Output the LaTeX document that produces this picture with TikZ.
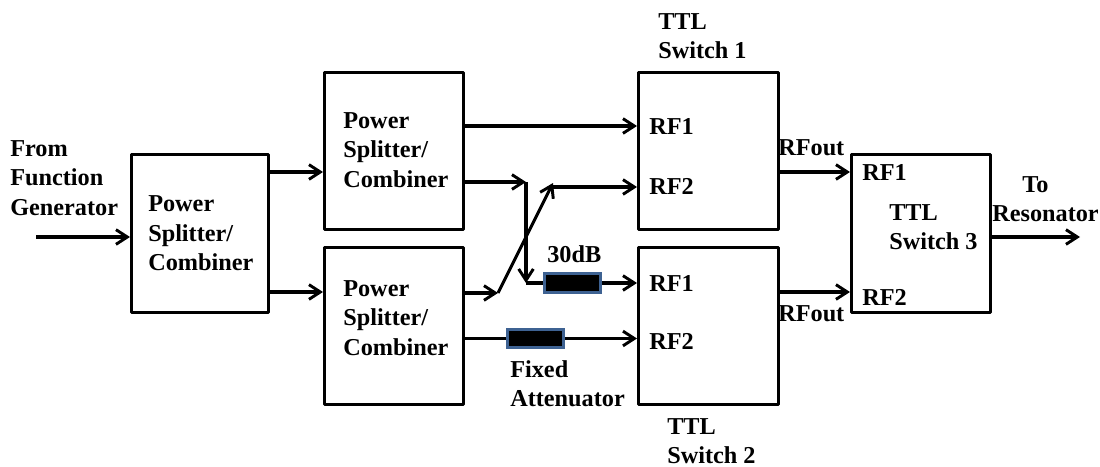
\documentclass[tikz,border=0pt]{standalone}
\usepackage{fontspec}
\setmainfont{Liberation Serif}
\usetikzlibrary{arrows.meta}
\tikzset{
 block/.style={draw=black,line width=2.3pt,inner sep=0pt,anchor=north west,line join=round},
 conn/.style={draw=black,line width=2.3pt,-{Straight Barb[length=8.5pt,width=11pt,line width=2.2pt]}},
 plain/.style={draw=black,line width=2.3pt},
 atten/.style={draw={rgb,255:red,62;green,98;blue,146},fill=black,line width=2.3pt,minimum width=42pt,minimum height=14pt,inner sep=0pt},
 lab/.style={font=\fontsize{18.2}{22}\selectfont\bfseries,align=left,anchor=west,inner sep=0pt},
}
\begin{document}
\begin{tikzpicture}[x=0.75pt,y=-0.75pt]
\useasboundingbox (0,0) rectangle (1100,467);
\node[block,minimum width=137pt*0.75,minimum height=158pt*0.75] (ps0) at (130,153) {};
\node[block,minimum width=139pt*0.75,minimum height=157pt*0.75] (ps1) at (323,71) {};
\node[block,minimum width=139pt*0.75,minimum height=157pt*0.75] (ps2) at (323,246) {};
\node[block,minimum width=140pt*0.75,minimum height=157pt*0.75] (sw1) at (637,71) {};
\node[block,minimum width=140pt*0.75,minimum height=157pt*0.75] (sw2) at (637,246) {};
\node[block,minimum width=139pt*0.75,minimum height=158pt*0.75] (sw3) at (850,153) {};
\node[lab] (t0) at (10,178) {From\\Function\\Generator};
\node[lab] (t1) at (148,233.5) {Power\\Splitter/\\Combiner};
\node[lab] (t2) at (343,150) {Power\\Splitter/\\Combiner};
\node[lab] (t3) at (343,318) {Power\\Splitter/\\Combiner};
\node[lab] (t4) at (658,36) {TTL\\Switch 1};
\node[lab] (t5) at (667,441) {TTL\\Switch 2};
\node[lab] (t6) at (889,227) {TTL\\Switch 3};
\node[lab] (t7) at (1022,185) {To};
\node[lab] (t8) at (992,214) {Resonator};
\node[lab] (r1) at (649,126) {RF1};
\node[lab] (r2) at (649,186) {RF2};
\node[lab] (r3) at (649,283) {RF1};
\node[lab] (r4) at (649,341) {RF2};
\node[lab] (r5) at (778,148) {RFout};
\node[lab] (r6) at (778,314) {RFout};
\node[lab] (r7) at (862,172) {RF1};
\node[lab] (r8) at (862,297) {RF2};
\node[lab] (t9) at (547,254) {30dB};
\node[lab] (t10) at (510,384) {Fixed\\Attenuator};
\node[atten] (a1) at (572.5,283) {};
\node[atten] (a2) at (535.5,338.5) {};
\coordinate (in) at (36,237);
\coordinate (out) at (1080,237);
\draw[conn] (in) -- (ps0.west |- in);
\draw[conn] (ps0.east |- 0,172) -- (ps1.west |- 0,172);
\draw[conn] (ps0.east |- 0,292) -- (ps2.west |- 0,292);
\draw[conn] (ps1.east |- 0,126) -- (sw1.west |- 0,126);
\coordinate (j1) at (526,182);
\coordinate (j2) at (526,283);
\draw[conn] (ps1.east |- j1) -- (j1);
\draw[conn] (j1) -- (j2);
\draw[plain] (j2) -- (a1.west);
\draw[conn] (a1.east) -- (sw2.west |- a1.east);
\coordinate (j3) at (498,293);
\coordinate (j4) at (553,183);
\coordinate (j5) at (553,187);
\draw[conn] (ps2.east |- j3) -- (j3);
\draw[conn] (j3) -- (j4);
\draw[conn] (j5) -- (sw1.west |- j5);
\draw[plain] (ps2.east |- a2) -- (a2.west);
\draw[conn] (a2.east) -- (sw2.west |- a2.east);
\draw[conn] (sw1.east |- 0,172) -- (sw3.west |- 0,172);
\draw[conn] (sw2.east |- 0,292) -- (sw3.west |- 0,292);
\draw[conn] (sw3.east |- out) -- (out);
\end{tikzpicture}
\end{document}
